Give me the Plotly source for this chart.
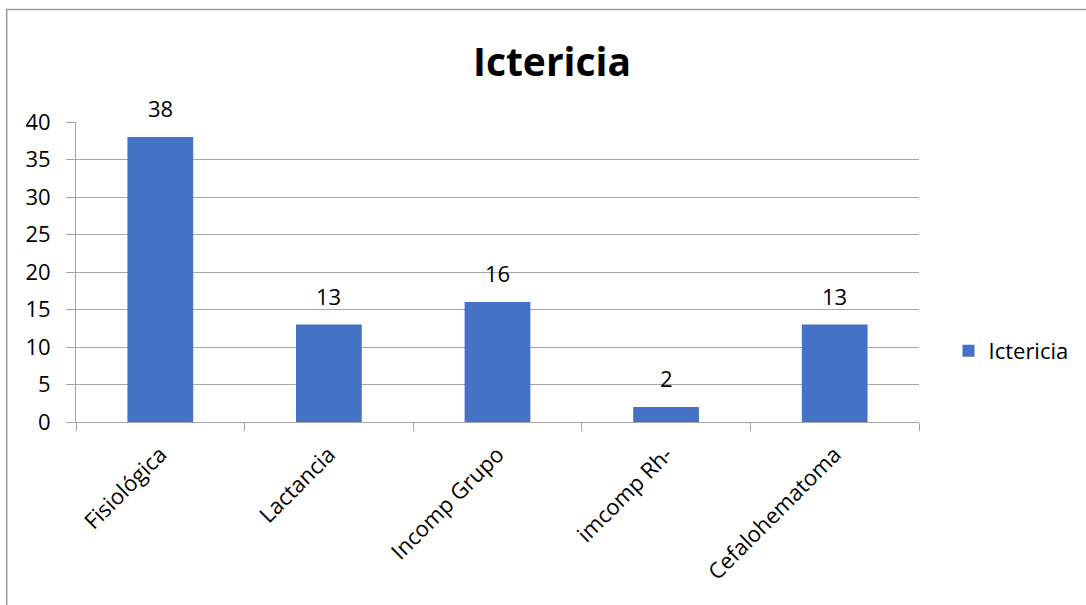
import plotly.graph_objects as go

categories = ["Fisiológica", "Lactancia", "Incomp Grupo", "imcomp Rh-", "Cefalohematoma"]
values = [38, 13, 16, 2, 13]
series_name = "Ictericia"
y_ticks = [0, 5, 10, 15, 20, 25, 30, 35, 40]

FONT = "Open Sans, sans-serif"
BAR_COLOR = "#4472C4"
GRID = "#A6A6A6"
TXT = 22

fig = go.Figure()
fig.add_trace(go.Bar(
    x=categories,
    y=values,
    name=series_name,
    marker=dict(color=BAR_COLOR, line=dict(width=0)),
    width=0.39,
    showlegend=True,
))

# value labels above each bar
for cat, val in zip(categories, values):
    fig.add_annotation(
        x=cat, y=val, text=str(val),
        showarrow=False, yanchor="bottom", yshift=12,
        font=dict(family=FONT, size=TXT, color="#000000"),
    )

fig.update_layout(
    width=1086,
    height=605,
    margin=dict(l=76, r=165, t=122, b=183),
    paper_bgcolor="white",
    plot_bgcolor="white",
    font=dict(family=FONT, color="#000000"),
    title=dict(
        text="<b>Ictericia</b>",
        x=552 / 1086,
        xanchor="center",
        y=1 - 62 / 605,
        yanchor="middle",
        font=dict(family=FONT, size=39, color="#000000"),
    ),
    legend=dict(
        x=1.035,
        y=0.237,
        xanchor="left",
        yanchor="middle",
        font=dict(family=FONT, size=TXT, color="#000000"),
        itemwidth=30,
        bgcolor="rgba(0,0,0,0)",
    ),
    bargap=0.61,
    shapes=[
        dict(
            type="rect", xref="paper", yref="paper",
            x0=-0.0822, x1=1.3, y0=-1.0, y1=1.375,
            line=dict(color="#9A9A9A", width=1.5),
            fillcolor="rgba(0,0,0,0)",
            layer="below",
        )
    ],
)

fig.update_yaxes(
    range=[0, 40],
    tickvals=y_ticks,
    showgrid=True,
    gridcolor=GRID,
    gridwidth=1,
    zeroline=False,
    showline=True,
    linecolor=GRID,
    linewidth=1,
    ticks="outside",
    ticklen=9,
    tickcolor=GRID,
    tickfont=dict(family=FONT, size=TXT, color="#000000"),
    ticklabelstandoff=11,
)

fig.update_xaxes(
    showgrid=False,
    showline=True,
    linecolor=GRID,
    linewidth=1,
    ticks="outside",
    ticklen=8,
    tickcolor=GRID,
    tickson="boundaries",
    tickangle=-45,
    tickfont=dict(family=FONT, size=TXT, color="#000000"),
    ticklabelstandoff=10,
    mirror=False,
)

fig.write_html("out.html")
